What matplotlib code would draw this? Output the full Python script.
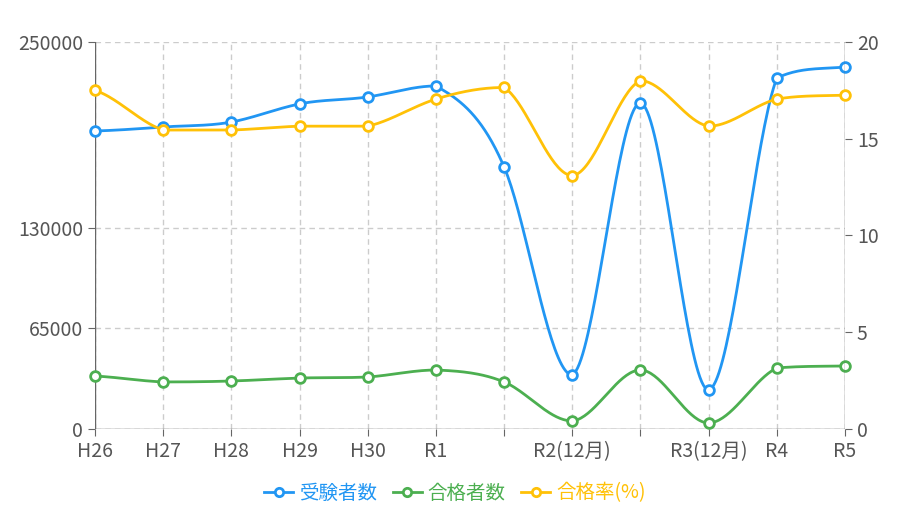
import numpy as np
import matplotlib.pyplot as plt
from matplotlib.lines import Line2D

plt.rcParams['font.family'] = ['Noto Sans CJK JP', 'DejaVu Sans']

years = ['H26', 'H27', 'H28', 'H29', 'H30', 'R1', 'R2', 'R2(12月)', 'R3', 'R3(12月)', 'R4', 'R5']
tick_labels = ['H26', 'H27', 'H28', 'H29', 'H30', 'R1', '', 'R2(12月)', '', 'R3(12月)', 'R4', 'R5']
applicants = [192500, 195100, 198300, 210000, 214500, 221600, 169300, 34900, 210600, 25200, 226700, 233800]
passers = [34200, 30400, 31000, 32900, 33600, 38100, 30400, 5200, 38100, 3900, 39400, 40700]
pass_rate = [17.5, 15.45, 15.45, 15.65, 15.65, 17.05, 17.65, 13.1, 18.0, 15.65, 17.05, 17.25]

c_blue, c_green, c_orange = '#2196F3', '#4CAF50', '#FFC107'


def smooth(y, n=40):
    # bezier curve through the points, control points kept inside each segment
    y = np.asarray(y, float)
    p = np.concatenate([[y[0]], y, [y[-1]]])
    xs, ys = [], []
    for i in range(len(y) - 1):
        t = np.linspace(0, 1, n)
        p0, p1, p2, p3 = p[i], p[i + 1], p[i + 2], p[i + 3]
        lo, hi = min(p1, p2), max(p1, p2)
        c1 = np.clip(p1 + (p2 - p0) / 6 * 1.1, lo, hi)
        c2 = np.clip(p2 - (p3 - p1) / 6 * 1.1, lo, hi)
        xs.append(i + t)
        ys.append((1 - t)**3 * p1 + 3 * (1 - t)**2 * t * c1 + 3 * (1 - t) * t**2 * c2 + t**3 * p2)
    return np.concatenate(xs), np.concatenate(ys)


fig = plt.figure(figsize=(9.1, 5.2), dpi=100)
ax = fig.add_axes([95 / 910, 1 - 429 / 520, 750 / 910, 387 / 520])
ax2 = ax.twinx()
x = np.arange(len(years))

for a in (ax, ax2):
    for s in a.spines.values():
        s.set_visible(False)

ax.grid(True, color='#cccccc', linestyle=(0, (4, 3)), linewidth=1)
ax.set_axisbelow(True)
ax.set_xlim(0, len(years) - 1)
ax.set_ylim(0, 250000)
ax.set_yticks([0, 65000, 130000, 250000])
ax.set_xticks(x)
ax.set_xticklabels(tick_labels)
ax2.set_ylim(0, 20)
ax2.set_yticks([0, 5, 10, 15, 20])
ax.axhline(0, color='#666666', linewidth=1)
ax.axvline(0, color='#666666', linewidth=1)
ax2.axvline(len(years) - 1, color='#666666', linewidth=1, zorder=1)
for a in (ax, ax2):
    a.tick_params(labelsize=14, colors='#666666', labelcolor='#555555', length=5)

for data, c, a in [(applicants, c_blue, ax), (passers, c_green, ax), (pass_rate, c_orange, ax2)]:
    sx, sy = smooth(data)
    a.plot(sx, sy, color=c, linewidth=2, clip_on=False, zorder=3)
    a.plot(x, data, 'o', color=c, markerfacecolor='white', markeredgewidth=2,
           markersize=7, clip_on=False, zorder=4)

handles = [Line2D([], [], color=c, marker='o', markerfacecolor='white', markeredgewidth=2,
                  markersize=6, linewidth=2) for c in (c_blue, c_green, c_orange)]
labels = ['受験者数', '合格者数', '合格率(%)']
leg = fig.legend(handles, labels, loc='center', bbox_to_anchor=(0.5, 1 - 493 / 520), ncol=3,
                 frameon=False, fontsize=14, handlelength=1.5, handletextpad=0.3, columnspacing=0.8)
for t, c in zip(leg.get_texts(), (c_blue, c_green, c_orange)):
    t.set_color(c)

fig.savefig('out.png', dpi=100)
